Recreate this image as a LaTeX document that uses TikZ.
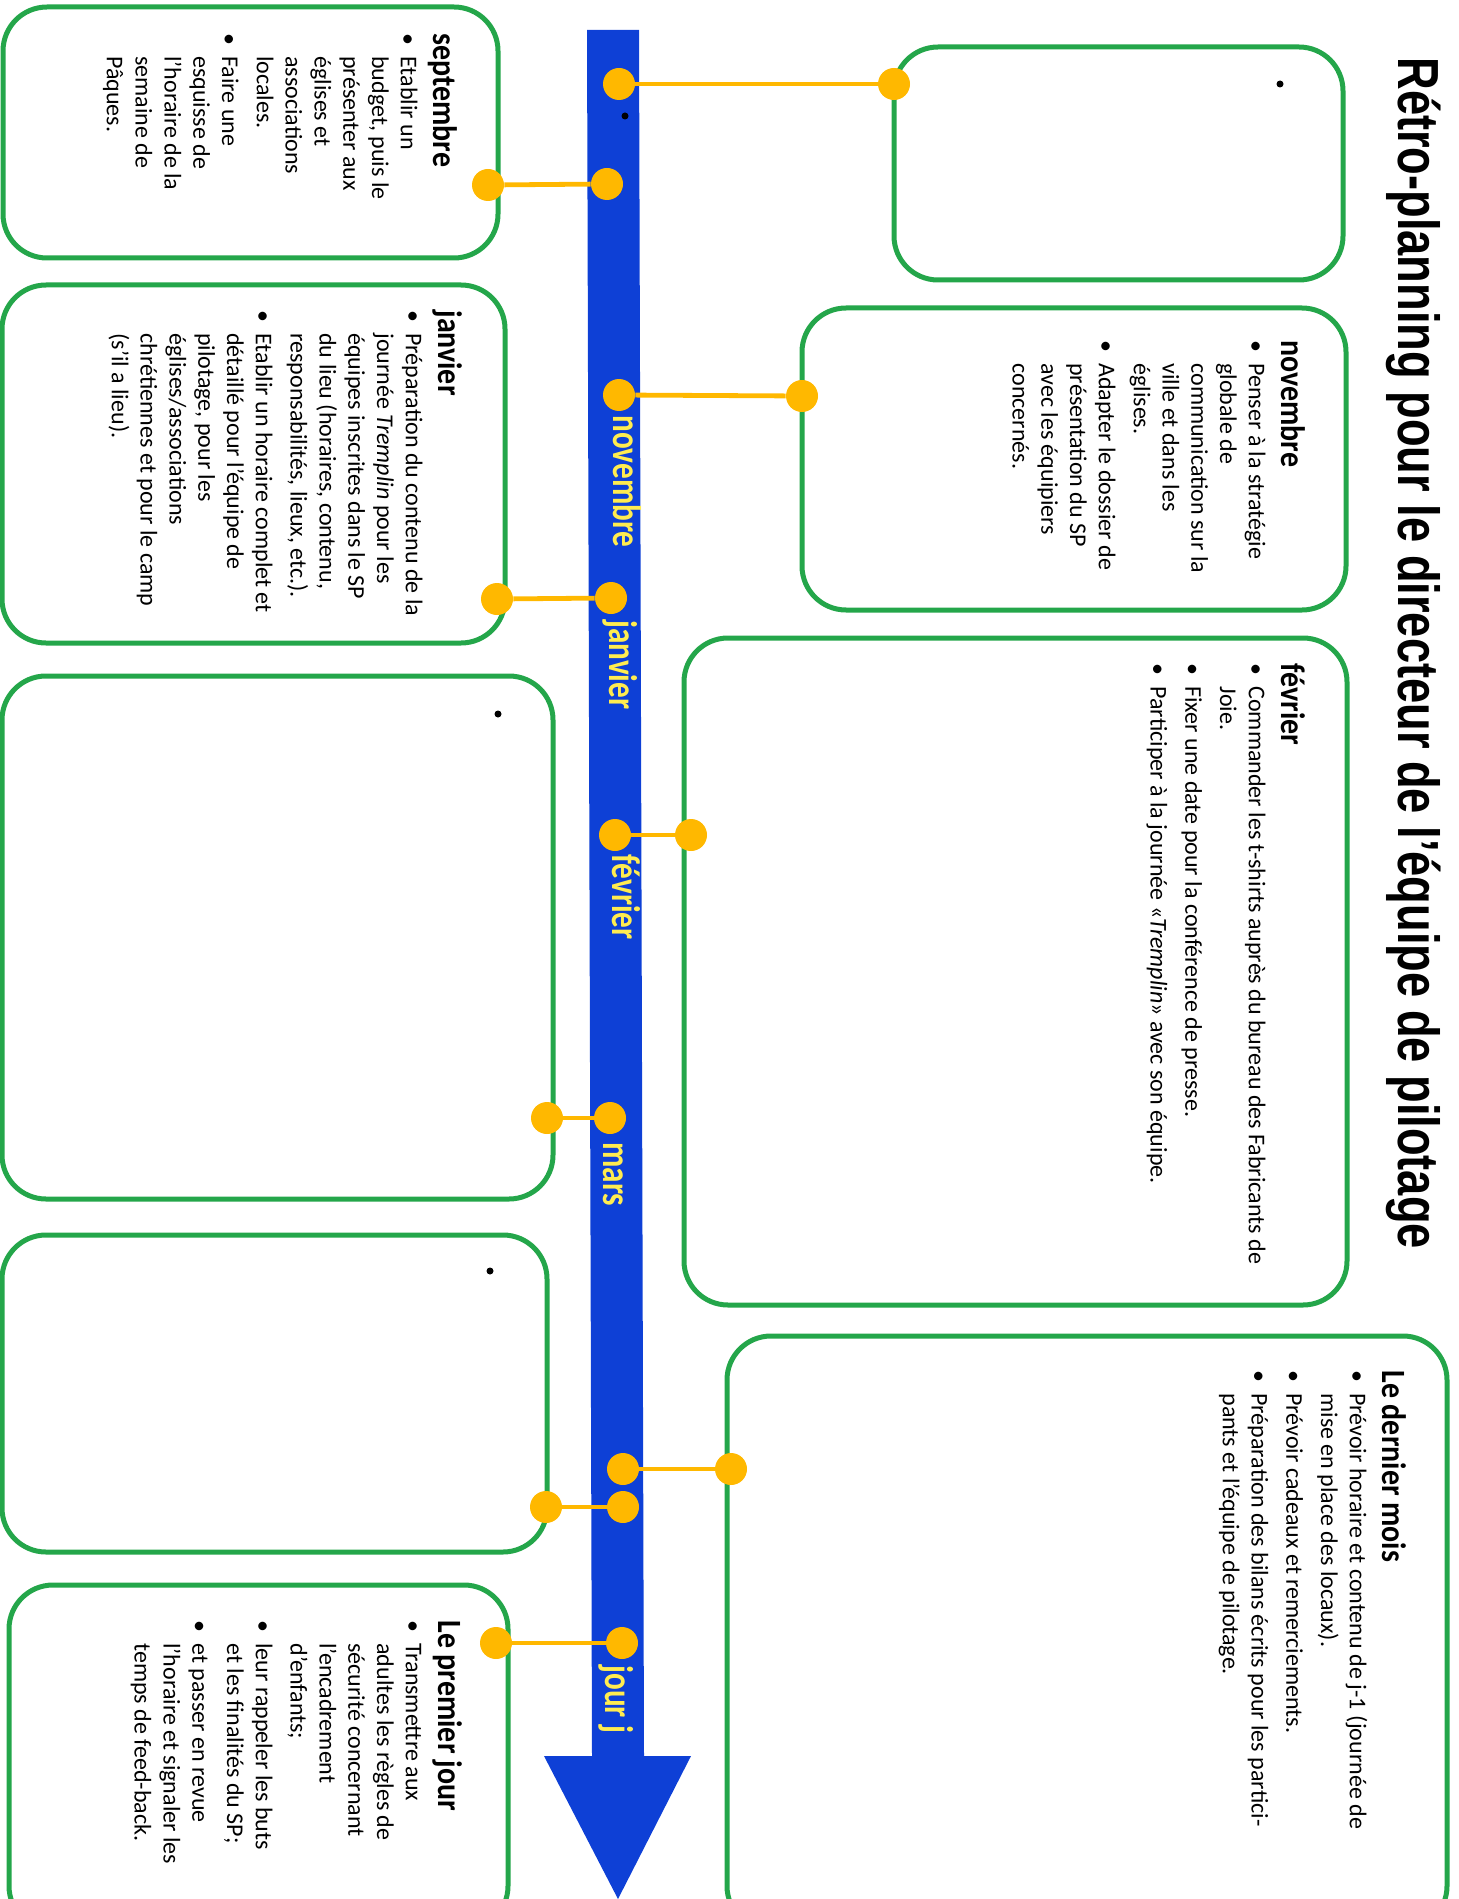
\documentclass[tikz,border=0pt]{standalone}
\usepackage{fontspec}
\setmainfont{Carlito}
\newfontfamily\titlefont[FakeStretch=0.78]{Liberation Sans}
\newfontfamily\headfont[FakeStretch=0.88]{Carlito}
\newfontfamily\monthfont[FakeStretch=0.78]{Carlito}
\usetikzlibrary{positioning}
\definecolor{myblue}{RGB}{14,64,214}
\definecolor{mygreen}{RGB}{36,166,74}
\definecolor{myamber}{RGB}{255,184,0}
\definecolor{mylabel}{RGB}{255,236,80}

\newcommand{\hd}[1]{\multicolumn{2}{@{}l@{}}{\headfont\fontsize{17}{20}\selectfont\bfseries #1}\\[2pt]}
\newcommand{\itm}{\textbullet &}

\begin{document}
\begin{tikzpicture}[x=0.5pt, y=-0.5pt,
    card/.style={draw=mygreen, line width=2.5pt, rounded corners=22pt},
    dot/.style={circle, fill=myamber, inner sep=0pt, minimum size=16pt},
    link/.style={draw=myamber, line width=2.4pt},
    notes/.style={rotate=-90, anchor=north west, inner sep=0pt, font=\fontsize{12}{14.4}\selectfont},
    month/.style={rotate=-90, anchor=base west, text=mylabel, font=\monthfont\fontsize{20}{24}\selectfont\bfseries, inner sep=0pt},
    blank/.style={circle, fill=black, inner sep=0pt, minimum size=3.5pt}
]
\useasboundingbox (0,0) rectangle (1459,1899);
\clip (0,0) rectangle (1459,1899);

% Cards on the left
\draw[card] (3,7) rectangle (498,258);
\draw[card] (2,285) rectangle (505,643);
\draw[card] (2,676) rectangle (553,1199);
\draw[card] (2,1235) rectangle (547,1552);
\draw[card] (9,1585) rectangle (508,1930);

% Cards on the right
\draw[card] (894,47) rectangle (1343,280);
\draw[card] (802,308) rectangle (1346,610);
\draw[card] (684,638) rectangle (1347,1305);
\draw[card] (727,1336) rectangle (1447,1930);

% Time line
\fill[myblue] (587,30) -- (639,30) -- (644,1756) -- (691,1756) -- (618,1899)
  -- (544,1756) -- (592,1756) -- cycle;

% Title
\node[rotate=-90, anchor=north west, inner sep=0pt, font=\titlefont\fontsize{29}{34}\selectfont\bfseries]
  (title) at (1441,57) {Rétro-planning pour le directeur de l’équipe de pilotage};

% Months on the time line
\node[month] (m-nov) at (613,415) {novembre};
\node[month] (m-jan) at (609,620) {janvier};
\node[month] (m-fev) at (612,854) {février};
\node[month] (m-mar) at (603,1142) {mars};
\node[month] (m-jj) at (605,1665) {jour j};

% Connectors
\node[dot] (a1) at (619,84) {};
\node[dot] (b1) at (894,84) {};
\draw[link] (a1) -- (b1);
\node[dot] (a2) at (607,184) {};
\node[dot] (b2) at (488,185) {};
\draw[link] (a2) -- (b2);
\node[dot] (a3) at (619,395) {};
\node[dot] (b3) at (802,396) {};
\draw[link] (a3) -- (b3);
\node[dot] (a4) at (611,598) {};
\node[dot] (b4) at (497,599) {};
\draw[link] (a4) -- (b4);
\node[dot] (a5) at (615,835) {};
\node[dot] (b5) at (691,835) {};
\draw[link] (a5) -- (b5);
\node[dot] (a6) at (610,1118) {};
\node[dot] (b6) at (547,1118) {};
\draw[link] (a6) -- (b6);
\node[dot] (a7) at (623,1469) {};
\node[dot] (b7) at (731,1469) {};
\draw[link] (a7) -- (b7);
\node[dot] (a8) at (623,1507) {};
\node[dot] (b8) at (546,1507) {};
\draw[link] (a8) -- (b8);
\node[dot] (a9) at (622,1643) {};
\node[dot] (b9) at (496,1643) {};
\draw[link] (a9) -- (b9);

% Empty bullets
\node[blank] (e1) at (1280,84) {};
\node[blank] (e2) at (625,116) {};
\node[blank] (e3) at (498,714) {};
\node[blank] (e4) at (490,1271) {};

% Notes
\node[notes] (n-sep) at (458,33) {\begin{tabular}{@{}p{11.5pt}@{}l@{}}
\hd{septembre}
\itm Etablir un\\
 & budget, puis le\\
 & présenter aux\\
 & églises et\\
 & associations\\
 & locales.\\[3pt]
\itm Faire une\\
 & esquisse de\\
 & l’horaire de la\\
 & semaine de\\
 & Pâques.
\end{tabular}};

\node[notes] (n-jan) at (463,310) {\begin{tabular}{@{}p{11.5pt}@{}l@{}}
\hd{janvier}
\itm Préparation du contenu de la\\
 & journée \textit{Tremplin} pour les\\
 & équipes inscrites dans le SP\\
 & du lieu (horaires, contenu,\\
 & responsabilités, lieux, etc.).\\[3pt]
\itm Etablir un horaire complet et\\
 & détaillé pour l’équipe de\\
 & pilotage, pour les\\
 & églises/associations\\
 & chrétiennes et pour le camp\\
 & (s’il a lieu).
\end{tabular}};

\node[notes] (n-nov) at (1306,340) {\begin{tabular}{@{}p{11.5pt}@{}l@{}}
\hd{novembre}
\itm Penser à la stratégie\\
 & globale de\\
 & communication sur la\\
 & ville et dans les\\
 & églises.\\[3pt]
\itm Adapter le dossier de\\
 & présentation du SP\\
 & avec les équipiers\\
 & concernés.
\end{tabular}};

\node[notes] (n-fev) at (1306,663) {\begin{tabular}{@{}p{11.5pt}@{}l@{}}
\hd{février}
\itm Commander les t-shirts auprès du bureau des Fabricants de\\
 & Joie.\\[3pt]
\itm Fixer une date pour la conférence de presse.\\[3pt]
\itm Participer à la journée «\textit{Tremplin}» avec son équipe.
\end{tabular}};

\node[notes] (n-der) at (1407,1370) {\begin{tabular}{@{}p{11.5pt}@{}l@{}}
\hd{Le dernier mois}
\itm Prévoir horaire et contenu de j-1 (journée de\\
 & mise en place des locaux).\\[3pt]
\itm Prévoir cadeaux et remerciements.\\[3pt]
\itm Préparation des bilans écrits pour les partici-\\
 & pants et l’équipe de pilotage.
\end{tabular}};

\node[notes] (n-pre) at (463,1620) {\begin{tabular}{@{}p{11.5pt}@{}l@{}}
\hd{Le premier jour}
\itm Transmettre aux\\
 & adultes les règles de\\
 & sécurité concernant\\
 & l’encadrement\\
 & d’enfants;\\[3pt]
\itm leur rappeler les buts\\
 & et les finalités du SP;\\[3pt]
\itm et passer en revue\\
 & l’horaire et signaler les\\
 & temps de feed-back.
\end{tabular}};

\end{tikzpicture}
\end{document}
